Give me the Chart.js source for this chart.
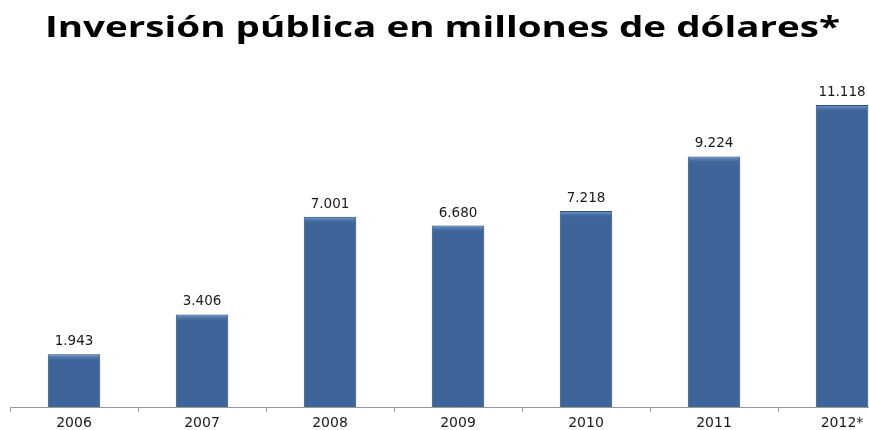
<!DOCTYPE html>
<html>
<head>
<meta charset="utf-8">
<script src="https://cdn.jsdelivr.net/npm/chart.js@4"></script>
<style>
  html, body { margin: 0; padding: 0; background: #fff; overflow: hidden; }
  #wrap { width: 906px; height: 434px; }
</style>
</head>
<body>
<div id="wrap"><canvas id="chart"></canvas></div>
<script>
const years = ["2006", "2007", "2008", "2009", "2010", "2011", "2012*"];
const inversion = [1943, 3406, 7001, 6680, 7218, 9224, 11118];
const titleText = "Inversión pública en millones de dólares*";

// number like 11.118 (spanish thousands separator)
function fmt(v) {
  return v.toString().replace(/\B(?=(\d{3})+(?!\d))/g, ".");
}

// bar shading: darker edges, lighter middle
function barFill(ctx) {
  const el = ctx.element;
  const chart = ctx.chart;
  if (!el || !el.width || !chart.ctx) return "#3d6599";
  const x0 = el.x - el.width / 2;
  const g = chart.ctx.createLinearGradient(x0, 0, x0 + el.width, 0);
  g.addColorStop(0, "#2c4d7a");
  g.addColorStop(0.1, "#3d6598");
  g.addColorStop(0.9, "#3d6598");
  g.addColorStop(1, "#2c4d7a");
  return g;
}

// title, stretched a bit wide like the original slide
const wideTitle = {
  id: "wideTitle",
  afterDraw(chart) {
    const ctx = chart.ctx;
    ctx.save();
    ctx.font = "bold 29px 'Open Sans'";
    ctx.fillStyle = "#000";
    ctx.textBaseline = "alphabetic";
    const w = ctx.measureText(titleText).width;
    const target = 795;
    ctx.translate(45, 37);
    ctx.scale(target / w, 1);
    ctx.fillText(titleText, 0, 0);
    ctx.restore();
  }
};

const valueLabels = {
  id: "valueLabels",
  afterDatasetsDraw(chart) {
    const ctx = chart.ctx;
    const meta = chart.getDatasetMeta(0);
    ctx.save();
    // light bevel on top of each bar
    meta.data.forEach((bar) => {
      const x0 = bar.x - bar.width / 2 + 1;
      const g = ctx.createLinearGradient(0, bar.y, 0, bar.y + 7);
      g.addColorStop(0, "#7fa3d3");
      g.addColorStop(1, "rgba(61,101,152,0)");
      ctx.fillStyle = g;
      ctx.fillRect(x0, bar.y + 1, bar.width - 2, 7);
    });
    ctx.font = "13.5px 'DejaVu Sans'";
    ctx.fillStyle = "#1a1a1a";
    ctx.textAlign = "center";
    ctx.textBaseline = "alphabetic";
    meta.data.forEach((bar, i) => {
      ctx.fillText(fmt(inversion[i]), bar.x, bar.y - 9);
    });
    ctx.restore();
  }
};

new Chart(document.getElementById("chart"), {
  type: "bar",
  data: {
    labels: years,
    datasets: [{
      data: inversion,
      backgroundColor: barFill,
      borderColor: "#2a4a75",
      borderWidth: 1,
      categoryPercentage: 0.82,
      barPercentage: 0.5
    }]
  },
  options: {
    responsive: true,
    maintainAspectRatio: false,
    animation: false,
    layout: { padding: { left: 10, right: 0, top: 81, bottom: 0 } },
    plugins: {
      legend: { display: false },
      tooltip: { enabled: false },
      title: { display: false }
    },
    scales: {
      x: {
        grid: { offset: true, drawOnChartArea: false, drawTicks: true, tickLength: 5, color: "#999" },
        border: { color: "#999" },
        ticks: { color: "#1a1a1a", font: { family: "'DejaVu Sans'", size: 14, lineHeight: 1 }, padding: 4 }
      },
      y: {
        display: false,
        min: 0,
        max: 12000
      }
    }
  },
  plugins: [valueLabels, wideTitle]
});
</script>
</body>
</html>
